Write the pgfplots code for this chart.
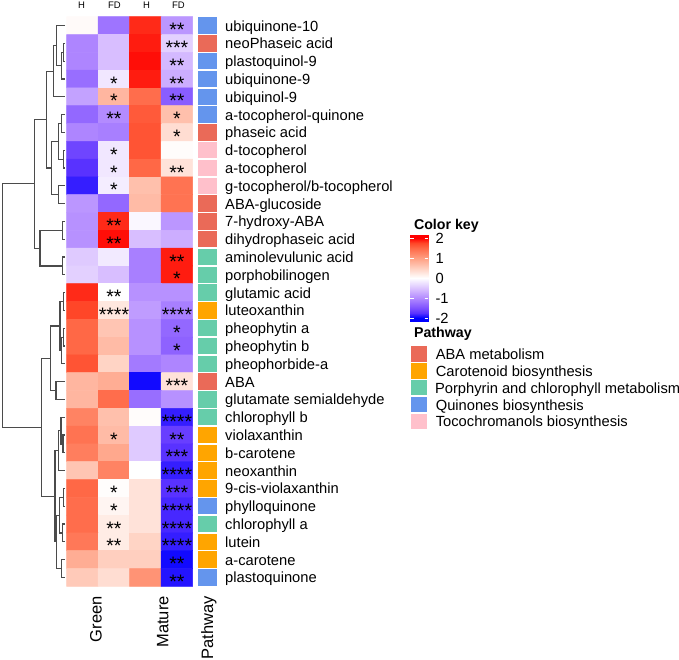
\documentclass[border=0pt]{standalone}
\usepackage{fontspec}
\setmainfont{Liberation Sans}
\usepackage{pgfplots}
\pgfplotsset{compat=1.18}
\usepackage{pgfplotstable}

\definecolor{cABA}{RGB}{234,106,88}
\definecolor{cCar}{RGB}{255,165,0}
\definecolor{cPor}{RGB}{102,205,170}
\definecolor{cQui}{RGB}{100,149,237}
\definecolor{cToc}{RGB}{255,192,203}
\definecolor{dendro}{RGB}{75,75,75}

\pgfdeclareplotmark{pwcell}{\pgfpathrectangle{\pgfpoint{-9.8pt}{-8.15pt}}{\pgfpoint{19.6pt}{16.3pt}}\pgfusepathqfill}

\newcommand\mylab{\fontsize{14.7}{18}\selectfont}
\newcommand\myhdr{\fontsize{9.5}{11}\selectfont}
\newcommand\mysig{\fontsize{19.5}{20}\selectfont}
\newcommand\mybot{\fontsize{16.5}{18}\selectfont}
\newcommand\myttl{\fontsize{14.2}{16}\selectfont\bfseries}

% heatmap values: r = row (0 = top), c = column (Green-H, Green-FD, Mature-H, Mature-FD)
\pgfplotstableread{
r c v
0 0 0.05
0 1 -1.2
0 2 1.85
0 3 -0.9
1 0 -1.05
1 1 -0.55
1 2 1.9
1 3 -0.4
2 0 -1.05
2 1 -0.55
2 2 1.95
2 3 -0.6
3 0 -1.25
3 1 -0.2
3 2 1.9
3 3 -0.7
4 0 -0.8
4 1 0.75
4 2 1.45
4 3 -1.4
5 0 -1.3
5 1 -1.0
5 2 1.6
5 3 0.65
6 0 -1.05
6 1 -1.1
6 2 1.65
6 3 0.35
7 0 -1.6
7 1 -0.2
7 2 1.65
7 3 0.03
8 0 -1.75
8 1 -0.2
8 2 1.5
8 3 0.3
9 0 -1.85
9 1 -0.15
9 2 0.65
9 3 1.4
10 0 -0.9
10 1 -1.3
10 2 0.7
10 3 1.4
11 0 -0.95
11 1 1.85
11 2 -0.07
11 3 -0.9
12 0 -0.95
12 1 1.95
12 2 -0.55
12 3 -0.7
13 0 -0.45
13 1 -0.18
13 2 -1.1
13 3 1.9
14 0 -0.4
14 1 -0.55
14 2 -1.1
14 3 1.9
15 0 1.85
15 1 0.0
15 2 -0.95
15 3 -0.95
16 0 1.75
16 1 0.25
16 2 -0.85
16 3 -1.1
17 0 1.5
17 1 0.6
17 2 -0.95
17 3 -1.3
18 0 1.5
18 1 0.7
18 2 -0.95
18 3 -1.35
19 0 1.65
19 1 0.45
19 2 -1.15
19 3 -1.05
20 0 0.75
20 1 0.85
20 2 -1.95
20 3 0.3
21 0 0.75
21 1 1.45
21 2 -1.25
21 3 -0.95
22 0 1.25
22 1 0.65
22 2 0.03
22 3 -1.85
23 0 1.4
23 1 0.7
23 2 -0.45
23 3 -1.65
24 0 1.3
24 1 0.9
24 2 -0.45
24 3 -1.75
25 0 0.6
25 1 1.25
25 2 0.0
25 3 -1.85
26 0 1.5
26 1 0.02
26 2 0.3
26 3 -1.75
27 0 1.45
27 1 0.1
27 2 0.3
27 3 -1.8
28 0 1.45
28 1 0.2
28 2 0.3
28 3 -1.8
29 0 1.35
29 1 0.2
29 2 0.45
29 3 -1.85
30 0 0.85
30 1 0.5
30 2 0.5
30 3 -1.95
31 0 0.55
31 1 0.35
31 2 1.1
31 3 -1.9
}\heat

% pathway of each row
\pgfplotstableread{
r p
0 Q
1 A
2 Q
3 Q
4 Q
5 Q
6 A
7 T
8 T
9 T
10 A
11 A
12 A
13 P
14 P
15 P
16 C
17 P
18 P
19 P
20 A
21 P
22 P
23 C
24 C
25 C
26 C
27 Q
28 P
29 C
30 C
31 Q
}\pathw

% dendrogram segments (x, y in picture units)
\pgfplotstableread{
x y
65 43.4
63.3 43.4
63.3 61.2
65 61.2
nan nan
63.3 52.3
61.7 52.3
61.7 79.0
65 79.0
nan nan
65 25.6
56.7 25.6
56.7 65.65
61.7 65.65
nan nan
56.7 45.6
53.3 45.6
53.3 96.8
65 96.8
nan nan
65 114.6
61.7 114.6
61.7 132.4
65 132.4
nan nan
65 150.2
63.3 150.2
63.3 168.0
65 168.0
nan nan
61.7 123.5
58.3 123.5
58.3 159.1
63.3 159.1
nan nan
65 185.8
58.3 185.8
58.3 203.6
65 203.6
nan nan
58.3 141.3
51.7 141.3
51.7 194.7
58.3 194.7
nan nan
53.3 71.2
46.7 71.2
46.7 168.0
51.7 168.0
nan nan
65 221.4
62.7 221.4
62.7 239.2
65 239.2
nan nan
65 257.0
62.7 257.0
62.7 274.8
65 274.8
nan nan
62.7 230.3
40 230.3
40 265.9
62.7 265.9
nan nan
46.7 119.6
34.3 119.6
34.3 248.1
40 248.1
nan nan
65 292.6
63.3 292.6
63.3 310.4
65 310.4
nan nan
65 328.2
63.3 328.2
63.3 346.0
65 346.0
nan nan
63.3 337.1
61.7 337.1
61.7 363.8
65 363.8
nan nan
63.3 301.5
60 301.5
60 350.45
61.7 350.45
nan nan
65 381.6
56 381.6
56 399.4
65 399.4
nan nan
60 326.0
50.3 326.0
50.3 390.5
56 390.5
nan nan
65 435.0
63 435.0
63 452.8
65 452.8
nan nan
65 417.2
61 417.2
61 443.9
63 443.9
nan nan
61 430.55
58.3 430.55
58.3 470.6
65 470.6
nan nan
65 488.4
63.3 488.4
63.3 506.2
65 506.2
nan nan
65 524.0
62.3 524.0
62.3 541.8
65 541.8
nan nan
63.3 497.3
59.3 497.3
59.3 532.9
62.3 532.9
nan nan
65 559.6
61.7 559.6
61.7 577.4
65 577.4
nan nan
59.3 515.1
56.7 515.1
56.7 568.5
61.7 568.5
nan nan
58.3 450.6
55 450.6
55 541.8
56.7 541.8
nan nan
50.3 358.25
41.7 358.25
41.7 496.2
55 496.2
nan nan
34.3 183.85
2.7 183.85
2.7 427.2
41.7 427.2
}\dendro

% colour key bar
\pgfplotstableread{
x y v
410 235.3 2.15
428 235.3 2.15
410 238.3 2
428 238.3 2
410 243.3 1.75
428 243.3 1.75
410 248.3 1.5
428 248.3 1.5
410 258.3 1
428 258.3 1
410 268.3 0.5
428 268.3 0.5
410 278.3 0
428 278.3 0
410 288.3 -0.5
428 288.3 -0.5
410 298.3 -1
428 298.3 -1
410 308.3 -1.5
428 308.3 -1.5
410 313.3 -1.75
428 313.3 -1.75
410 318.3 -2
428 318.3 -2
410 321.3 -2.15
428 321.3 -2.15
}\keybar

\begin{document}
\begin{tikzpicture}
\begin{axis}[
  at={(0pt,0pt)}, anchor=south west,
  scale only axis, width=679pt, height=659pt,
  xmin=0, xmax=679, ymin=0, ymax=659, y dir=reverse,
  enlargelimits=false, hide axis, clip=false,
  colormap={ch}{rgb255(0pt)=(0,0,255) rgb255(1pt)=(89,50,255) rgb255(2pt)=(126,81,255)
    rgb255(4pt)=(179,139,255) rgb255(6pt)=(220,196,255) rgb255(8pt)=(255,255,255)
    rgb255(10pt)=(255,207,191) rgb255(12pt)=(255,158,129) rgb255(14pt)=(255,104,70)
    rgb255(15pt)=(255,70,40) rgb255(16pt)=(255,0,0)},
  point meta min=-2, point meta max=2,
]
% heatmap
\addplot[matrix plot, mesh/cols=4, point meta=explicit,
  faceted color=mapped color!80!black, line width=0.5pt]
  table[x expr={82.45+31.5*\thisrow{c}}, y expr={16.7+17.8*(\thisrow{r}+0.5)}, meta=v] {\heat};

% pathway annotation
\addplot[scatter, only marks, scatter src=explicit symbolic,
  scatter/classes={A={mark=pwcell,cABA}, C={mark=pwcell,cCar}, P={mark=pwcell,cPor},
                   Q={mark=pwcell,cQui}, T={mark=pwcell,cToc}}]
  table[x expr=207.3, y expr={16.7+17.8*(\thisrow{r}+0.5)}, meta=p] {\pathw};

% dendrogram
\addplot[dendro, line width=1.2pt, unbounded coords=jump, mark=none] table[x=x,y=y] {\dendro};

% colour key
\addplot[surf, shader=interp, mesh/cols=2, point meta=explicit] table[x=x,y=y,meta=v] {\keybar};
\addplot[white, line width=0.8pt, unbounded coords=jump, mark=none] coordinates {
 (410,238.3)(413.5,238.3) (nan,nan) (424.5,238.3)(428,238.3) (nan,nan)
 (410,258.3)(413.5,258.3) (nan,nan) (424.5,258.3)(428,258.3) (nan,nan)
 (410,278.3)(413.5,278.3) (nan,nan) (424.5,278.3)(428,278.3) (nan,nan)
 (410,298.3)(413.5,298.3) (nan,nan) (424.5,298.3)(428,298.3) (nan,nan)
 (410,318.3)(413.5,318.3) (nan,nan) (424.5,318.3)(428,318.3)};

% column headers
\node[anchor=base, font=\myhdr] at (axis cs:81.5,8.6) {H};
\node[anchor=base, font=\myhdr] at (axis cs:114.5,8.6) {FD};
\node[anchor=base, font=\myhdr] at (axis cs:146.5,8.6) {H};
\node[anchor=base, font=\myhdr] at (axis cs:178.5,8.6) {FD};

% significance stars
\node[anchor=base, font=\mysig] at (axis cs:176.95,36.6) {**};
\node[anchor=base, font=\mysig] at (axis cs:176.95,54.4) {***};
\node[anchor=base, font=\mysig] at (axis cs:176.95,72.2) {**};
\node[anchor=base, font=\mysig] at (axis cs:113.95,90.0) {*};
\node[anchor=base, font=\mysig] at (axis cs:176.95,90.0) {**};
\node[anchor=base, font=\mysig] at (axis cs:113.95,107.8) {*};
\node[anchor=base, font=\mysig] at (axis cs:176.95,107.8) {**};
\node[anchor=base, font=\mysig] at (axis cs:113.95,125.6) {**};
\node[anchor=base, font=\mysig] at (axis cs:176.95,125.6) {*};
\node[anchor=base, font=\mysig] at (axis cs:176.95,143.4) {*};
\node[anchor=base, font=\mysig] at (axis cs:113.95,161.2) {*};
\node[anchor=base, font=\mysig] at (axis cs:113.95,179.0) {*};
\node[anchor=base, font=\mysig] at (axis cs:176.95,179.0) {**};
\node[anchor=base, font=\mysig] at (axis cs:113.95,196.8) {*};
\node[anchor=base, font=\mysig] at (axis cs:113.95,232.4) {**};
\node[anchor=base, font=\mysig] at (axis cs:113.95,250.2) {**};
\node[anchor=base, font=\mysig] at (axis cs:176.95,268.0) {**};
\node[anchor=base, font=\mysig] at (axis cs:176.95,285.8) {*};
\node[anchor=base, font=\mysig] at (axis cs:113.95,303.6) {**};
\node[anchor=base, font=\mysig] at (axis cs:113.95,321.4) {****};
\node[anchor=base, font=\mysig] at (axis cs:176.95,321.4) {****};
\node[anchor=base, font=\mysig] at (axis cs:176.95,339.2) {*};
\node[anchor=base, font=\mysig] at (axis cs:176.95,357.0) {*};
\node[anchor=base, font=\mysig] at (axis cs:176.95,392.6) {***};
\node[anchor=base, font=\mysig] at (axis cs:176.95,428.2) {****};
\node[anchor=base, font=\mysig] at (axis cs:113.95,446.0) {*};
\node[anchor=base, font=\mysig] at (axis cs:176.95,446.0) {**};
\node[anchor=base, font=\mysig] at (axis cs:176.95,463.8) {***};
\node[anchor=base, font=\mysig] at (axis cs:176.95,481.6) {****};
\node[anchor=base, font=\mysig] at (axis cs:113.95,499.4) {*};
\node[anchor=base, font=\mysig] at (axis cs:176.95,499.4) {***};
\node[anchor=base, font=\mysig] at (axis cs:113.95,517.2) {*};
\node[anchor=base, font=\mysig] at (axis cs:176.95,517.2) {****};
\node[anchor=base, font=\mysig] at (axis cs:113.95,535.0) {**};
\node[anchor=base, font=\mysig] at (axis cs:176.95,535.0) {****};
\node[anchor=base, font=\mysig] at (axis cs:113.95,552.8) {**};
\node[anchor=base, font=\mysig] at (axis cs:176.95,552.8) {****};
\node[anchor=base, font=\mysig] at (axis cs:176.95,570.6) {**};
\node[anchor=base, font=\mysig] at (axis cs:176.95,588.4) {**};

% row labels
\node[anchor=base west, font=\mylab] at (axis cs:221.7,31.0) {ubiquinone-10};
\node[anchor=base west, font=\mylab] at (axis cs:221.7,48.8) {neoPhaseic acid};
\node[anchor=base west, font=\mylab] at (axis cs:221.7,66.6) {plastoquinol-9};
\node[anchor=base west, font=\mylab] at (axis cs:221.7,84.4) {ubiquinone-9};
\node[anchor=base west, font=\mylab] at (axis cs:221.7,102.2) {ubiquinol-9};
\node[anchor=base west, font=\mylab] at (axis cs:221.7,120.0) {a-tocopherol-quinone};
\node[anchor=base west, font=\mylab] at (axis cs:221.7,137.8) {phaseic acid};
\node[anchor=base west, font=\mylab] at (axis cs:221.7,155.6) {d-tocopherol};
\node[anchor=base west, font=\mylab] at (axis cs:221.7,173.4) {a-tocopherol};
\node[anchor=base west, font=\mylab] at (axis cs:221.7,191.2) {g-tocopherol/b-tocopherol};
\node[anchor=base west, font=\mylab] at (axis cs:221.7,209.0) {ABA-glucoside};
\node[anchor=base west, font=\mylab] at (axis cs:221.7,226.8) {7-hydroxy-ABA};
\node[anchor=base west, font=\mylab] at (axis cs:221.7,244.6) {dihydrophaseic acid};
\node[anchor=base west, font=\mylab] at (axis cs:221.7,262.4) {aminolevulunic acid};
\node[anchor=base west, font=\mylab] at (axis cs:221.7,280.2) {porphobilinogen};
\node[anchor=base west, font=\mylab] at (axis cs:221.7,298.0) {glutamic acid};
\node[anchor=base west, font=\mylab] at (axis cs:221.7,315.8) {luteoxanthin};
\node[anchor=base west, font=\mylab] at (axis cs:221.7,333.6) {pheophytin a};
\node[anchor=base west, font=\mylab] at (axis cs:221.7,351.4) {pheophytin b};
\node[anchor=base west, font=\mylab] at (axis cs:221.7,369.2) {pheophorbide-a};
\node[anchor=base west, font=\mylab] at (axis cs:221.7,387.0) {ABA};
\node[anchor=base west, font=\mylab] at (axis cs:221.7,404.8) {glutamate semialdehyde};
\node[anchor=base west, font=\mylab] at (axis cs:221.7,422.6) {chlorophyll b};
\node[anchor=base west, font=\mylab] at (axis cs:221.7,440.4) {violaxanthin};
\node[anchor=base west, font=\mylab] at (axis cs:221.7,458.2) {b-carotene};
\node[anchor=base west, font=\mylab] at (axis cs:221.7,476.0) {neoxanthin};
\node[anchor=base west, font=\mylab] at (axis cs:221.7,493.8) {9-cis-violaxanthin};
\node[anchor=base west, font=\mylab] at (axis cs:221.7,511.6) {phylloquinone};
\node[anchor=base west, font=\mylab] at (axis cs:221.7,529.4) {chlorophyll a};
\node[anchor=base west, font=\mylab] at (axis cs:221.7,547.2) {lutein};
\node[anchor=base west, font=\mylab] at (axis cs:221.7,565.0) {a-carotene};
\node[anchor=base west, font=\mylab] at (axis cs:221.7,582.8) {plastoquinone};

% bottom labels
\node[rotate=90, anchor=base east, font=\mybot] at (axis cs:101.7,592.7) {Green};
\node[rotate=90, anchor=base east, font=\mybot] at (axis cs:168.3,592.7) {Mature};
\node[rotate=90, anchor=base east, font=\mybot] at (axis cs:213.2,592.7) {Pathway};

% colour key labels
\node[anchor=base west, font=\myttl] at (axis cs:410.5,229.3) {Color key};
\node[anchor=base west, font=\mylab] at (axis cs:432,243.7) {2};
\node[anchor=base west, font=\mylab] at (axis cs:432,263.7) {1};
\node[anchor=base west, font=\mylab] at (axis cs:432,283.7) {0};
\node[anchor=base west, font=\mylab] at (axis cs:432,303.7) {-1};
\node[anchor=base west, font=\mylab] at (axis cs:432,323.7) {-2};

% pathway legend
\node[anchor=base west, font=\myttl] at (axis cs:410.5,337.3) {Pathway};
\fill[cABA] (axis cs:411,346.2) rectangle (axis cs:427.3,361.6);
\fill[cCar] (axis cs:411,363.1) rectangle (axis cs:427.3,378.5);
\fill[cPor] (axis cs:411,380.0) rectangle (axis cs:427.3,395.4);
\fill[cQui] (axis cs:411,396.9) rectangle (axis cs:427.3,412.3);
\fill[cToc] (axis cs:411,413.8) rectangle (axis cs:427.3,429.2);
\node[anchor=base west, font=\mylab] at (axis cs:432.3,359.3) {ABA metabolism};
\node[anchor=base west, font=\mylab] at (axis cs:432.3,376.2) {Carotenoid biosynthesis};
\node[anchor=base west, font=\mylab] at (axis cs:431.5,393.1) {Porphyrin and chlorophyll metabolism};
\node[anchor=base west, font=\mylab] at (axis cs:432.3,410.0) {Quinones biosynthesis};
\node[anchor=base west, font=\mylab] at (axis cs:432.3,426.9) {Tocochromanols biosynthesis};
\end{axis}
\pgfresetboundingbox
\path[use as bounding box] (0pt,0pt) rectangle (679pt,659pt);
\end{tikzpicture}
\end{document}
